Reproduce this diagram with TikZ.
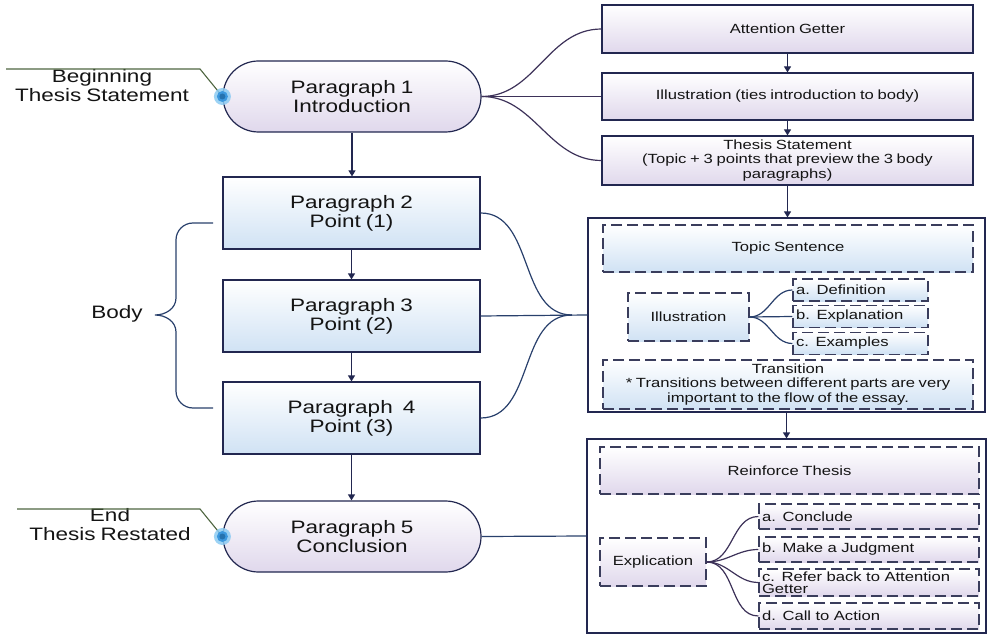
\documentclass[tikz,border=0pt]{standalone}
\usepackage{fontspec}
\setmainfont{Liberation Sans}[FakeStretch=1.25,WordSpace=0.8]
\usetikzlibrary{arrows.meta}
\definecolor{edge}{HTML}{222750}
\definecolor{dedge}{HTML}{3A3D5C}
\definecolor{lav}{HTML}{E0D8EC}
\definecolor{lblue}{HTML}{D0E2F4}
\definecolor{conP}{HTML}{3D3259}
\definecolor{conB}{HTML}{29406C}
\definecolor{olive}{HTML}{4E6540}
\definecolor{dotc}{HTML}{2E8FDA}
\definecolor{glow}{HTML}{8CCBF2}
\begin{document}
\begin{tikzpicture}[x=1pt,y=-1pt,
  every node/.style={text=black!92},
  bigtxt/.style={font=\fontsize{18}{19}\selectfont},
  smalltxt/.style={font=\fontsize{13.3}{14.5}\selectfont},
  itemtxt/.style={font=\fontsize{13.3}{12.5}\selectfont},
  box/.style={draw=edge, line width=1.2pt, inner sep=0pt, align=center},
  lavfill/.style={top color=white, bottom color=lav},
  bluefill/.style={top color=white, bottom color=lblue},
  dbox/.style={draw=dedge, line width=1.1pt, dash pattern=on 11pt off 5pt, inner sep=0pt, align=center},
  item/.style={dbox, lavfill, itemtxt, align=left, inner xsep=3pt, inner ysep=0pt},
  arr/.style={draw=edge, line width=1.2pt, -{Triangle[width=7pt,length=6pt]}},
  connP/.style={draw=conP, line width=1.2pt},
  connB/.style={draw=conB, line width=1.2pt},
  plain/.style={inner sep=0pt, align=center}
]
\useasboundingbox (0,0) rectangle (987,636);

% ---------- left column ----------
\node[box, lavfill, bigtxt, minimum width=258, minimum height=71, rounded corners=35.5pt] (P1) at (352,96.5) {Paragraph 1\\Introduction};
\node[box, bluefill, bigtxt, minimum width=257, minimum height=72] (P2) at (351.5,213) {Paragraph 2\\Point (1)};
\node[box, bluefill, bigtxt, minimum width=257, minimum height=72] (P3) at (351.5,316) {Paragraph 3\\Point (2)};
\node[box, bluefill, bigtxt, minimum width=257, minimum height=72] (P4) at (351.5,418) {Paragraph\ \ 4\\Point (3)};
\node[box, lavfill, bigtxt, minimum width=258, minimum height=71, rounded corners=35.5pt] (P5) at (352,536.5) {Paragraph 5\\Conclusion};

\draw[arr] (P1.south) -- (P1.south |- P2.north);
\draw[arr] (P2.south) -- (P3.north);
\draw[arr] (P3.south) -- (P4.north);
\draw[arr] (P4.south) -- (P4.south |- P5.north);

% labels on the left
\node[plain, bigtxt] (beg) at (102,86) {Beginning\\Thesis Statement};
\node[plain, bigtxt] (end) at (110,525) {End\\Thesis Restated};
\node[plain, bigtxt] (body) at (117,314) {Body};

\coordinate (b0) at (6,69);
\coordinate (b1) at (200,69);
\coordinate (e0) at (17,509);
\coordinate (e1) at (200,509);
\draw[olive, line width=1.1pt] (b0) -- (b1) -- (P1.west);
\draw[olive, line width=1.1pt] (e0) -- (e1) -- (P5.west);
\foreach \n in {P1,P5}{
  \fill[glow, opacity=0.85] (\n.west) circle (8.5pt);
  \fill[dotc!85!glow] (\n.west) circle (5.5pt);
  \fill[dotc!80!black] (\n.west) circle (3pt);
}

% brace
\coordinate (br1) at (213,223);
\coordinate (br2) at (213,408);
\coordinate (brt) at (155,315);
\draw[connB] (br1) -- (193,223) to[out=180,in=90] (176,240) -- (176,298)
  to[out=270,in=0] (brt) to[out=0,in=90] (176,332) -- (176,391)
  to[out=270,in=180] (193,408) -- (br2);

% ---------- right top ----------
\node[box, lavfill, smalltxt, minimum width=371, minimum height=48] (AG) at (787.5,29) {Attention Getter};
\node[box, lavfill, smalltxt, minimum width=371, minimum height=47] (IL) at (787.5,96.5) {Illustration (ties introduction to body)};
\node[box, lavfill, smalltxt, minimum width=371, minimum height=49] (TS) at (787.5,160.5) {Thesis Statement\\(Topic + 3 points that preview the 3 body\\paragraphs)};

\draw[arr] (AG.south) -- (IL.north);
\draw[arr] (IL.south) -- (TS.north);

\draw[connP] (P1.east) to[out=0,in=180] (AG.west);
\draw[connP] (P1.east) -- (IL.west);
\draw[connP] (P1.east) to[out=0,in=180] (TS.west);

% ---------- body box ----------
\node[box, fill=white, minimum width=397, minimum height=194] (BB1) at (786.5,315) {};
\node[dbox, bluefill, smalltxt, minimum width=370, minimum height=47] (TOP) at (788,248.5) {Topic Sentence};
\node[dbox, bluefill, smalltxt, minimum width=121, minimum height=48] (ILL) at (688.5,317) {Illustration};
\node[item, bluefill, text width=129, minimum height=22] (Ia) at (860.5,290) {a. Definition};
\node[item, bluefill, text width=129, minimum height=22] (Ib) at (860.5,316.5) {b. Explanation};
\node[item, bluefill, text width=129, minimum height=22] (Ic) at (860.5,343.5) {c. Examples};
\node[dbox, bluefill, smalltxt, minimum width=370, minimum height=49] (TR) at (788,384.5) {Transition\\* Transitions between different parts are very\\important to the flow of the essay.};

\draw[connB] (ILL.east) to[out=0,in=180] (Ia.west);
\draw[connB] (ILL.east) -- (Ib.west);
\draw[connB] (ILL.east) to[out=0,in=180] (Ic.west);

\draw[arr] (TS.south) -- (TS.south |- BB1.north);

\coordinate (j1) at (572,315);
\draw[connB] (P2.east) to[out=0,in=180] (j1);
\draw[connB] (P4.east) to[out=0,in=180] (j1);
\draw[connB] (P3.east) -- (BB1.west);

% ---------- conclusion box ----------
\node[box, fill=white, minimum width=399, minimum height=194] (BB2) at (786.5,536) {};
\node[dbox, lavfill, smalltxt, minimum width=379, minimum height=47] (RT) at (789.5,470.5) {Reinforce Thesis};
\node[dbox, lavfill, smalltxt, minimum width=106, minimum height=48] (EX) at (653,562) {Explication};
\node[item, text width=214, minimum height=25] (Ca) at (869,516.5) {a. Conclude};
\node[item, text width=214, minimum height=25] (Cb) at (869,549.5) {b. Make a Judgment};
\node[item, text width=214, minimum height=27] (Cc) at (869,582.5) {c. Refer back to Attention\\Getter};
\node[item, text width=214, minimum height=26] (Cd) at (869,616) {d. Call to Action};

\draw[connP] (EX.east) to[out=0,in=180] (Ca.west);
\draw[connP] (EX.east) to[out=0,in=180] (Cb.west);
\draw[connP] (EX.east) to[out=0,in=180] (Cc.west);
\draw[connP] (EX.east) to[out=0,in=180] (Cd.west);

\draw[arr] (BB1.south) -- (BB2.north);
\draw[connB] (P5.east) -- (BB2.west);
\end{tikzpicture}
\end{document}
